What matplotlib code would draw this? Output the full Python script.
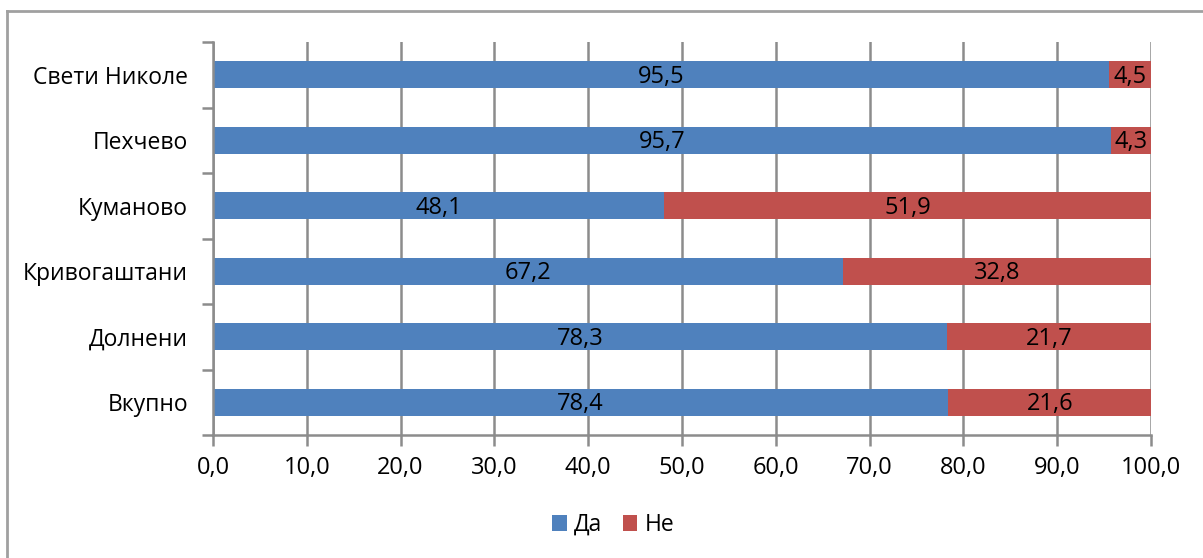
import matplotlib
matplotlib.use("Agg")
import matplotlib.pyplot as plt
from matplotlib.lines import Line2D
import numpy as np

plt.rcParams['font.family'] = ['Open Sans', 'DejaVu Sans']

categories = ["Свети Николе", "Пехчево", "Куманово", "Кривогаштани", "Долнени", "Вкупно"]
da = [95.5, 95.7, 48.1, 67.2, 78.3, 78.4]
ne = [4.5, 4.3, 51.9, 32.8, 21.7, 21.6]
xticks = [0, 10, 20, 30, 40, 50, 60, 70, 80, 90, 100]
xticklabels = ["0,0", "10,0", "20,0", "30,0", "40,0", "50,0", "60,0", "70,0", "80,0", "90,0", "100,0"]

blue = "#4F81BD"
red = "#C0504D"
gray = "#8C8C8C"

fig = plt.figure(figsize=(12.03, 5.58), dpi=100)
ax = fig.add_axes([213/1203, 1 - 435/558, (1151-213)/1203, (435-42)/558])

n = len(categories)
y = np.arange(n)[::-1]
h = 0.41
b1 = ax.barh(y, da, height=h, color=blue, label="Да", zorder=3)
b2 = ax.barh(y, ne, left=da, height=h, color=red, label="Не", zorder=3)

fs = 16.5
nfs = 17
for yi, d, e in zip(y, da, ne):
    ax.text(d / 2, yi - 0.03, f"{d:.1f}".replace(".", ","), ha="center", va="center", fontsize=nfs, zorder=4)
    ax.text(d + e / 2, yi - 0.03, f"{e:.1f}".replace(".", ","), ha="center", va="center", fontsize=nfs, zorder=4)

ax.set_xlim(0, 100)
ax.set_ylim(-0.5, n - 0.5)
ax.set_xticks(xticks)
ax.set_xticklabels(xticklabels, fontsize=nfs)
ax.set_yticks(y)
ax.set_yticklabels(categories, fontsize=fs)
ax.tick_params(axis="y", length=0, pad=18)
ax.set_yticks(np.arange(-0.5, n, 1.0), minor=True)
ax.tick_params(axis="y", which="minor", length=8, color=gray, width=1.8)
ax.tick_params(axis="x", length=8, color=gray, width=1.8, pad=7)
ax.grid(axis="x", color=gray, linewidth=1.8, zorder=0)
for s in ["top", "right"]:
    ax.spines[s].set_visible(False)
for s in ["left", "bottom"]:
    ax.spines[s].set_color(gray)
    ax.spines[s].set_linewidth(1.8)
    ax.spines[s].set_zorder(5)

leg = fig.legend(handles=[b1, b2], labels=["Да", "Не"], loc="center", bbox_to_anchor=(613/1203, 1 - 525/558),
                 ncol=2, frameon=False, fontsize=fs, handlelength=0.65, handleheight=0.65, handletextpad=0.3,
                 columnspacing=0.9)

# outer frame (left and top visible)
fig.add_artist(Line2D([7/1203, 7/1203], [0, 1 - 11/558], transform=fig.transFigure, color="#A0A0A0", linewidth=2))
fig.add_artist(Line2D([7/1203, 1], [1 - 11/558, 1 - 11/558], transform=fig.transFigure, color="#A0A0A0", linewidth=2))

fig.savefig("out.png", dpi=100)
